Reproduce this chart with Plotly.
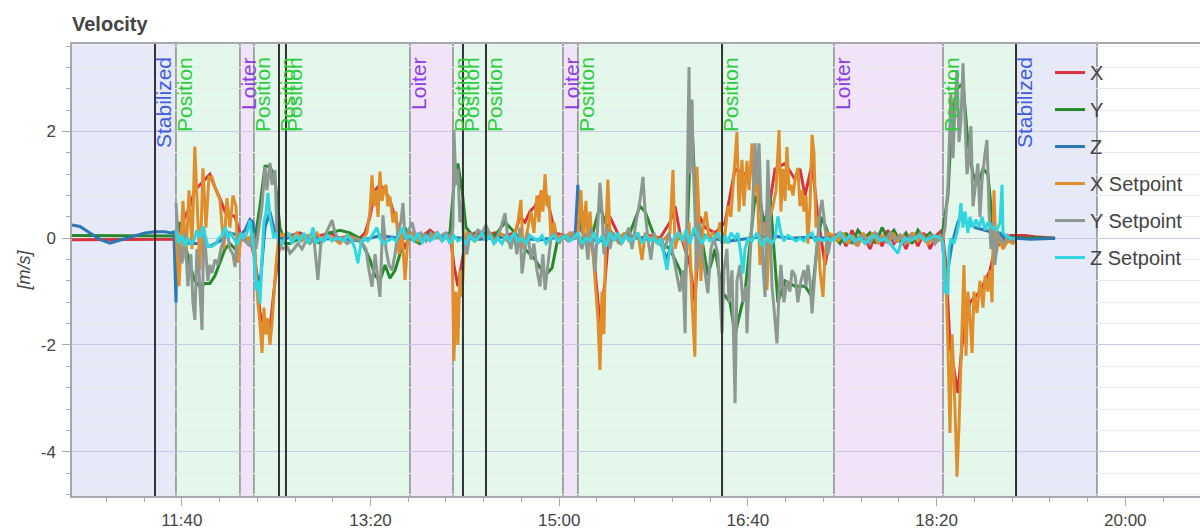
import plotly.graph_objects as go

# ---------------- data (time in seconds, velocity in m/s) ----------------
X = [(641.8,-0.03),(656.6,-0.03),(672.5,-0.02),(688.4,-0.03),(696.9,-0.02),(699.0,0.2),(701.7,0.4),(704.3,0.6),
     (706.9,0.9),(709.6,1.0),(712.3,1.1),(714.9,1.2),(717.6,0.95),(720.2,0.75),(722.9,0.5),(725.5,0.45),(728.2,0.4),
     (730.8,0.1),(733.5,0.0),(736.1,0.0),(738.8,-0.4),(741.4,-1.4),(744.1,-1.7),(746.7,-1.7),(749.4,-0.8),(752.0,-0.1),
     (757.3,0.05),(762.6,0.1),(767.9,0.0),(773.2,0.05),(778.5,0.1),(783.8,0.0),(789.1,0.05),(794.4,0.0),(797.1,0.1),
     (799.7,0.4),(802.4,0.9),(805.0,1.0),(807.7,0.9),(810.3,0.7),(813.0,0.4),(815.6,0.1),(818.3,-0.2),(820.9,0.1),
     (826.2,0.0),(831.5,0.15),(836.8,0.0),(842.1,0.1),(844.2,-0.5),(846.3,-0.9),(848.5,-0.4),(850.6,0.0),(855.4,0.1),
     (860.7,0.05),(865.9,0.1),(871.3,0.05),(876.6,0.1),(879.2,0.4),(881.9,0.3),(884.5,0.5),(887.2,0.6),(889.8,0.8),
     (892.5,0.9),(895.1,0.5),(897.8,0.1),(903.1,0.05),(908.4,0.1),(911.0,0.4),(913.7,0.5),(916.3,0.2),(919.0,-0.6),
     (921.6,-1.6),(924.3,-0.8),(926.9,0.4),(932.2,0.0),(937.5,0.05),(942.8,0.0),(948.1,0.05),(953.4,0.0),(958.7,0.3),
     (961.4,0.6),(964.0,0.1),(969.3,-0.5),(971.9,-1.2),(974.6,0.4),(977.3,0.2),(982.6,0.1),(987.9,0.3),(993.2,1.3),
     (998.5,1.2),(1003.8,1.4),(1009.1,0.1),(1014.4,1.3),(1019.7,1.4),(1025.0,1.1),(1027.6,1.3),(1030.3,0.8),(1034.0,1.4),
     (1037.1,0.4),(1040.9,-0.5),(1043.5,0.0),(1046.2,0.05),(1048.8,0.1),(1052.0,-0.15),(1055.2,0.15),(1058.3,-0.1),
     (1061.5,0.05),(1064.7,-0.2),(1067.9,0.1),(1071.1,-0.15),(1074.2,0.15),(1077.4,-0.1),(1080.6,0.05),(1083.8,-0.2),
     (1087.0,0.1),(1090.1,-0.15),(1093.3,0.1),(1096.5,-0.2),(1099.7,0.05),(1102.9,0.15),(1105.0,-0.5),(1107.1,-2.0),
     (1109.8,-2.6),(1111.3,-2.9),(1113.5,-2.0),(1115.6,-1.5),(1117.7,-1.2),(1120.4,-1.1),(1123.0,-1.0),(1125.7,-0.8),
     (1128.3,-0.6),(1130.9,-0.2),(1133.6,-0.1),(1136.3,0.0),(1138.9,0.05),(1142.1,0.05),(1146.9,0.05),(1152.2,0.03),
     (1157.5,0.02),(1162.8,0.0)]

Y = [(641.8,0.05),(656.6,0.05),(672.5,0.04),(688.4,0.04),(696.9,0.04),(699.0,0.3),(701.7,-0.1),(704.3,-0.5),
     (706.9,-0.8),(709.6,-0.9),(712.3,-0.85),(714.9,-0.85),(717.6,-0.7),(720.2,-0.45),(722.9,-0.2),(725.5,-0.1),
     (728.2,-0.2),(730.8,0.0),(733.5,0.0),(736.1,-0.05),(738.8,0.0),(741.4,0.6),(744.1,1.35),(746.7,1.35),(749.4,1.1),
     (752.0,0.2),(754.7,-0.1),(757.3,-0.1),(762.6,0.0),(767.9,0.05),(773.2,-0.1),(778.5,0.1),(783.8,0.15),(789.1,0.1),
     (794.4,0.0),(799.7,-0.4),(802.4,-0.7),(805.0,-0.8),(807.7,-0.5),(810.3,-0.75),(813.0,-0.6),(815.6,-0.3),(818.3,0.2),
     (820.9,0.0),(826.2,-0.1),(831.5,0.1),(836.8,0.0),(842.1,0.1),(844.2,1.0),(846.3,1.4),(848.5,0.9),(850.6,0.2),
     (855.4,0.0),(860.7,0.1),(865.9,0.05),(871.3,0.3),(876.6,0.1),(881.9,-0.2),(887.2,-0.4),(892.5,-0.7),(896.2,-0.56),
     (899.3,0.0),(905.7,0.05),(911.0,0.0),(916.3,-0.1),(921.6,0.6),(924.3,0.3),(929.6,0.0),(937.5,0.1),(942.8,0.6),
     (945.5,0.5),(950.8,0.0),(958.7,-0.2),(964.0,-0.6),(966.7,-1.0),(969.3,1.5),(970.4,2.09),(971.9,1.0),(974.6,0.2),
     (978.8,-0.7),(982.6,-0.2),(986.3,-1.0),(990.5,-1.2),(993.2,-1.8),(998.5,-1.0),(1003.8,0.8),(1009.1,0.3),
     (1011.7,0.8),(1015.9,-1.2),(1019.7,-0.8),(1025.0,-0.9),(1030.3,-0.9),(1034.0,-1.1),(1037.1,0.0),(1039.3,0.4),
     (1043.5,0.0),(1046.2,0.0),(1048.8,-0.1),(1052.0,0.1),(1055.2,-0.1),(1058.3,0.15),(1061.5,0.0),(1064.7,0.1),
     (1067.9,-0.1),(1071.1,0.2),(1074.2,0.0),(1077.4,0.15),(1080.6,-0.05),(1083.8,0.1),(1087.0,-0.1),(1090.1,0.15),
     (1093.3,0.0),(1096.5,0.1),(1099.7,-0.05),(1102.9,0.05),(1106.0,0.8),(1108.2,2.3),(1110.8,2.8),(1114.0,2.9),
     (1116.6,1.8),(1119.3,1.2),(1121.9,1.0),(1124.6,1.3),(1127.2,1.2),(1129.9,0.2),(1132.5,0.1),(1136.3,0.0),
     (1142.1,0.02),(1146.9,0.0),(1152.2,0.01),(1157.5,0.0),(1162.8,0.0)]

Z = [(641.8,0.25),(646.0,0.22),(651.3,0.1),(656.6,-0.02),(661.9,-0.09),(666.1,-0.05),(669.9,0.0),(675.2,0.05),
     (680.5,0.1),(685.8,0.12),(691.1,0.12),(694.2,0.1),(695.8,0.12),(696.4,-0.6),(696.9,-1.21),(697.4,-0.3),(699.0,-0.05),
     (704.3,-0.1),(709.6,-0.1),(714.9,-0.15),(720.2,-0.05),(725.5,0.1),(730.8,0.05),(733.5,0.15),(736.1,0.35),(737.7,0.3),
     (739.3,-0.6),(741.4,-0.9),(744.1,0.2),(746.7,0.5),(749.4,0.1),(752.0,0.0),(762.6,0.02),(773.2,-0.02),(783.8,0.0),
     (794.4,-0.05),(805.0,0.05),(815.6,0.0),(826.2,-0.02),(836.8,0.03),(847.4,0.0),(858.0,-0.02),(868.6,0.02),(879.2,0.0),
     (889.8,-0.03),(900.4,0.02),(908.4,0.0),(909.9,1.0),(911.0,0.2),(913.7,0.0),(921.6,-0.05),(932.2,0.02),(942.8,0.0),
     (953.4,-0.05),(957.1,-0.4),(959.8,-0.05),(969.3,0.05),(974.6,0.1),(979.9,0.0),(990.5,-0.05),(1001.1,0.0),
     (1011.7,0.05),(1022.3,0.0),(1032.9,0.02),(1043.5,0.0),(1054.1,0.02),(1064.7,-0.02),(1075.3,0.0),(1085.9,0.02),
     (1096.5,-0.02),(1102.9,0.0),(1104.5,-0.6),(1106.0,-0.6),(1108.2,-0.1),(1111.3,0.3),(1113.5,0.45),(1115.6,0.3),
     (1120.4,0.2),(1125.7,0.15),(1130.9,0.1),(1133.6,0.1),(1136.3,0.0),(1142.1,0.0),(1149.5,-0.02),(1157.5,-0.01),
     (1162.8,0.0)]

X_SETPOINT = [(696.9,0.15),(698.5,-0.9),(700.6,0.7),(702.2,-0.4),(703.8,0.9),(705.4,-0.2),(706.9,1.72),(708.5,0.3),
     (709.6,-0.6),(711.2,1.31),(712.8,0.2),(714.4,1.15),(716.0,1.15),(717.6,0.95),(719.1,0.8),(720.2,0.72),(722.3,-0.2),
     (723.9,0.75),(725.5,0.2),(727.1,0.8),(728.7,0.6),(729.7,-0.46),(731.3,0.0),(733.5,0.05),(735.6,-0.05),(737.2,0.1),
     (738.8,-0.3),(740.3,-1.2),(741.4,-1.6),(742.5,-2.15),(743.5,-1.3),(744.6,-1.8),(745.6,-1.5),(746.7,-2.0),(747.8,-1.6),
     (748.8,-1.0),(749.9,-0.5),(751.5,0.1),(753.6,0.05),(755.7,0.1),(758.4,0.0),(761.0,0.1),(763.7,-0.05),(766.3,0.05),
     (769.0,0.0),(771.6,0.1),(774.3,-0.05),(776.9,0.05),(780.1,0.0),(783.8,-0.1),(787.5,0.05),(791.8,0.0),(795.5,-0.05),
     (798.1,0.1),(799.7,0.5),(800.8,1.18),(801.8,0.6),(802.9,0.9),(804.0,0.4),(805.0,1.25),(806.1,0.7),(807.1,0.9),
     (808.2,1.0),(809.2,0.6),(810.3,0.78),(811.9,0.3),(813.5,0.5),(815.1,-0.3),(816.7,0.1),(818.3,-0.78),(819.8,0.0),
     (822.0,0.1),(825.1,-0.05),(828.3,0.05),(831.5,0.0),(834.7,0.1),(837.9,-0.05),(841.0,0.05),(843.2,0.0),(844.2,-2.3),
     (845.3,-1.0),(846.3,-2.0),(847.4,-0.6),(848.5,-1.1),(849.5,-0.3),(851.1,0.1),(853.2,0.05),(855.4,-0.05),(858.0,0.05),
     (860.7,0.0),(863.3,0.1),(865.9,-0.05),(868.6,0.1),(871.3,0.0),(873.9,-0.1),(876.6,0.1),(878.1,0.3),(879.7,0.72),
     (880.8,-0.2),(882.9,0.1),(885.0,0.5),(886.6,0.1),(888.2,0.8),(889.3,0.3),(890.3,0.9),(891.4,0.5),(892.5,1.2),
     (893.5,0.6),(894.6,0.8),(895.6,0.0),(897.2,0.3),(898.8,0.0),(900.9,0.05),(903.1,0.0),(905.7,0.1),(907.8,0.0),
     (909.9,0.05),(911.5,0.9),(912.6,0.0),(914.2,0.7),(915.2,-0.3),(916.3,0.5),(917.4,0.0),(918.4,-0.5),(919.5,-0.97),
     (920.5,-1.5),(921.6,-2.47),(922.7,-1.0),(923.7,-1.8),(924.8,0.2),(925.8,1.1),(926.9,0.1),(929.0,0.05),(931.7,-0.1),
     (934.3,0.1),(937.0,-0.05),(939.6,0.0),(941.7,0.1),(943.9,-0.41),(945.5,0.1),(948.1,0.0),(950.8,0.05),(953.4,-0.1),
     (956.1,0.0),(958.7,0.1),(960.3,1.28),(961.4,-0.2),(963.5,0.1),(965.6,0.0),(967.2,-0.2),(968.8,0.3),(970.4,-1.2),
     (971.9,-2.22),(973.0,1.34),(974.1,0.4),(975.1,-0.8),(976.2,0.2),(977.8,0.5),(979.4,0.0),(981.5,0.1),(983.6,0.0),
     (985.2,0.3),(987.3,-0.1),(989.4,0.6),(991.0,0.4),(992.6,1.2),(994.2,1.99),(995.3,0.5),(996.9,1.47),(997.9,0.6),
     (999.5,1.45),(1000.6,0.9),(1002.2,1.78),(1003.2,0.8),(1004.8,1.2),(1006.4,-0.5),(1008.0,0.3),(1009.6,0.1),
     (1010.1,-0.97),(1011.7,0.4),(1013.3,0.6),(1014.9,0.9),(1016.5,2.03),(1017.5,0.5),(1018.6,1.3),(1019.7,0.7),
     (1020.7,1.71),(1021.8,0.9),(1022.8,1.0),(1023.9,0.8),(1025.0,1.1),(1026.5,1.32),(1027.6,0.6),(1028.7,0.9),
     (1029.7,0.5),(1030.8,0.8),(1031.8,-0.1),(1032.9,0.6),(1034.0,1.94),(1035.0,1.6),(1036.1,0.2),(1037.1,0.4),
     (1038.2,-0.6),(1039.8,-1.1),(1040.9,-0.3),(1042.4,0.1),(1045.1,0.05),(1047.7,-0.05),(1050.4,0.1),(1053.0,-0.1),
     (1055.7,0.05),(1058.3,-0.15),(1061.0,0.1),(1063.6,-0.05),(1066.3,0.1),(1068.9,-0.1),(1071.6,0.05),(1074.2,-0.1),
     (1076.9,0.1),(1079.5,-0.05),(1082.2,0.05),(1084.8,-0.1),(1087.5,0.1),(1090.1,-0.05),(1092.8,0.05),(1095.4,-0.1),
     (1098.1,0.05),(1100.7,-0.05),(1102.9,0.0),(1103.9,-0.3),(1105.0,-0.8),(1106.0,-2.0),(1107.1,-3.65),(1108.2,-1.8),
     (1109.2,-2.6),(1110.3,-3.8),(1110.8,-4.47),(1111.9,-3.5),(1112.9,-2.3),(1114.0,-1.2),(1114.5,-0.5),(1115.6,-2.2),
     (1116.6,-1.0),(1117.7,-1.5),(1118.8,-2.15),(1119.8,-1.0),(1121.4,-1.4),(1123.0,-0.8),(1124.6,-1.3),(1125.7,-0.7),
     (1127.2,-1.0),(1128.3,-0.6),(1129.4,-1.2),(1130.4,0.9),(1131.5,-0.3),(1133.1,0.0),(1135.2,-0.2),(1137.8,-0.05),
     (1140.5,-0.1),(1142.1,0.0)]

Y_SETPOINT = [(696.9,0.66),(698.5,-0.2),(700.1,-0.47),(701.7,0.1),(703.2,-0.9),(704.8,-0.3),(705.9,-1.2),(706.9,-1.53),
     (708.0,-0.2),(709.1,-0.6),(710.7,-1.72),(711.7,0.2),(712.8,-0.3),(713.8,-0.8),(714.9,-0.5),(716.0,-0.65),(717.6,-0.4),
     (719.1,-0.5),(720.7,-0.2),(722.3,0.0),(723.9,0.15),(725.5,-0.2),(727.1,-0.3),(728.2,-0.54),(729.2,0.0),(731.3,0.0),
     (733.5,-0.05),(736.1,-0.15),(737.7,0.1),(739.3,-0.2),(740.9,0.2),(742.5,0.6),(744.1,1.34),(745.1,0.9),(746.7,1.41),
     (747.8,1.0),(749.4,1.28),(750.4,0.1),(751.5,-0.1),(753.6,-0.2),(755.7,-0.15),(757.3,-0.28),(759.4,-0.2),(761.5,-0.1),
     (763.7,-0.2),(765.8,-0.05),(767.9,-0.1),(770.0,0.0),(772.1,-0.78),(773.7,-0.1),(775.9,0.05),(778.0,0.2),(779.6,0.34),
     (781.2,0.1),(783.3,-0.05),(785.4,0.0),(787.5,-0.1),(790.2,-0.05),(792.8,0.0),(795.5,-0.1),(797.6,-0.2),(799.2,-0.6),
     (800.8,-0.91),(802.4,-0.3),(804.0,-0.8),(805.0,-1.1),(806.6,0.43),(808.2,-0.2),(809.8,-0.5),(811.4,-0.6),(813.0,-0.3),
     (814.5,0.1),(816.1,0.3),(817.2,0.66),(818.3,0.0),(819.8,0.1),(822.0,0.3),(824.1,0.0),(826.7,0.1),(829.4,-0.05),
     (832.0,0.1),(834.7,0.0),(837.3,0.05),(840.0,0.1),(842.6,0.0),(843.7,0.2),(844.2,2.03),(845.3,1.0),(846.3,1.3),
     (847.4,0.3),(848.5,0.7),(849.5,-0.1),(851.1,-0.3),(852.7,0.1),(854.8,0.0),(856.9,0.15),(859.1,0.1),(861.2,0.25),
     (862.8,0.1),(864.4,0.0),(865.9,-0.1),(867.5,0.05),(869.1,0.2),(871.3,0.47),(872.8,0.0),(874.4,-0.2),(876.0,0.1),
     (877.6,-0.3),(879.2,0.2),(880.3,-0.66),(881.9,-0.2),(883.4,0.1),(885.0,-0.4),(886.6,-0.1),(888.2,-0.6),(889.8,-0.9),
     (891.4,-0.3),(892.5,-0.97),(894.0,-0.5),(895.6,0.0),(897.8,0.1),(899.9,-0.1),(902.0,0.05),(904.6,-0.05),(907.3,0.1),
     (909.9,0.0),(912.1,-0.2),(913.7,0.1),(915.2,-0.4),(916.8,0.2),(918.4,-0.3),(919.0,-0.62),(920.5,0.3),(921.6,1.04),
     (922.7,0.5),(923.7,-0.3),(925.3,0.2),(926.9,-0.2),(928.5,0.1),(930.6,0.0),(932.7,-0.1),(934.9,0.05),(937.0,0.2),
     (938.6,-0.2),(940.7,0.3),(942.8,0.7),(944.4,1.15),(945.5,0.5),(947.0,0.0),(948.6,-0.4),(950.2,0.1),(951.8,-0.1),
     (953.9,0.0),(956.1,-0.2),(958.2,0.1),(960.3,-0.3),(962.4,-0.7),(964.0,-1.0),(965.6,-0.6),(966.7,-1.78),(967.7,0.5),
     (968.8,3.21),(969.3,1.2),(970.4,2.6),(970.9,1.53),(971.9,0.5),(973.0,-0.6),(974.1,0.3),(975.1,-0.2),(976.7,-0.5),
     (978.8,-1.03),(980.4,-0.2),(982.0,0.0),(984.1,-0.3),(986.3,-1.78),(987.3,-0.6),(988.9,-0.2),(990.0,-1.2),(991.6,-0.6),
     (993.2,-3.09),(994.2,-0.8),(995.8,-0.5),(997.4,-1.2),(999.0,-0.9),(999.5,-1.78),(1001.1,-0.4),(1002.2,0.3),
     (1003.8,1.78),(1004.8,1.0),(1005.9,1.78),(1006.9,0.5),(1008.0,-0.5),(1009.1,-1.1),(1010.1,0.9),(1010.6,1.47),
     (1011.7,0.2),(1012.8,-0.9),(1013.8,-1.3),(1015.4,-1.97),(1016.5,-1.0),(1017.5,-0.5),(1019.1,-1.2),(1020.7,-0.8),
     (1022.3,-1.0),(1023.4,-0.6),(1025.0,-0.7),(1026.5,-1.2),(1028.1,-0.8),(1029.7,-0.6),(1030.8,-0.9),(1031.8,-0.5),
     (1032.9,-0.8),(1034.0,-1.41),(1035.6,-0.6),(1037.1,0.0),(1038.2,0.5),(1039.3,0.72),(1040.9,0.2),(1042.4,-0.3),
     (1044.0,0.0),(1046.2,0.0),(1048.8,0.1),(1051.5,-0.05),(1054.1,0.05),(1056.8,-0.1),(1059.4,0.05),(1062.1,0.0),
     (1064.7,-0.1),(1067.4,0.1),(1070.0,0.0),(1072.7,-0.05),(1075.3,0.1),(1077.9,-0.05),(1080.6,0.05),(1083.3,-0.1),
     (1085.9,0.05),(1088.6,0.0),(1091.2,0.1),(1093.9,-0.05),(1096.5,0.05),(1099.2,-0.1),(1101.8,0.05),(1103.4,0.0),
     (1104.5,0.2),(1106.0,0.97),(1107.6,2.72),(1108.7,1.5),(1109.8,2.5),(1110.8,3.15),(1111.9,1.8),(1112.9,2.2),
     (1114.0,3.28),(1115.1,2.2),(1116.1,1.2),(1117.2,1.5),(1118.2,2.1),(1119.3,0.6),(1120.4,1.0),(1121.9,1.4),
     (1123.0,0.4),(1124.1,1.1),(1125.7,1.6),(1126.7,1.84),(1127.8,0.5),(1128.8,-0.2),(1129.9,0.3),(1130.9,-0.5),
     (1132.5,0.1),(1133.6,0.0),(1135.7,-0.1),(1137.8,0.05),(1140.0,-0.05),(1142.1,0.0)]

Z_SETPOINT = [(696.9,0.15),(698.5,-0.1),(700.1,0.05),(701.7,-0.15),(703.2,0.0),(704.8,-0.1),(706.4,-0.05),(708.0,0.15),
     (709.6,0.0),(711.2,0.22),(712.8,0.0),(713.8,-0.15),(716.0,-0.15),(718.1,-0.1),(719.7,0.0),(721.3,0.05),(722.9,0.21),
     (724.4,0.0),(726.0,0.1),(728.2,-0.05),(729.7,-0.1),(731.3,0.1),(732.9,0.0),(734.5,0.1),(736.1,0.34),(737.2,0.05),
     (738.2,-0.3),(739.3,-0.97),(740.3,-0.8),(741.4,-1.22),(742.5,-0.4),(743.5,0.3),(744.6,0.47),(745.6,0.85),(746.7,0.4),
     (747.8,0.2),(748.8,0.0),(749.9,0.1),(751.5,-0.05),(753.1,-0.1),(754.7,0.0),(756.8,0.1),(758.4,-0.1),(760.5,0.05),
     (762.6,-0.05),(764.7,0.1),(766.8,-0.1),(768.4,0.05),(769.5,0.2),(771.1,-0.1),(773.2,0.0),(775.3,-0.05),(777.4,0.05),
     (779.6,-0.05),(781.7,0.0),(783.8,0.0),(785.9,-0.05),(788.0,0.05),(790.2,-0.05),(791.8,-0.2),(793.3,-0.47),(794.9,-0.1),
     (796.5,0.0),(798.6,-0.05),(800.8,0.05),(803.4,0.2),(805.0,0.0),(807.1,-0.1),(809.2,-0.05),(811.4,0.0),(813.5,-0.05),
     (815.6,0.1),(817.2,0.2),(818.8,0.0),(820.9,0.05),(823.0,-0.05),(825.1,0.1),(827.3,-0.1),(829.4,0.05),(831.5,-0.05),
     (833.6,0.0),(835.7,0.1),(837.9,-0.05),(840.0,0.05),(842.1,-0.1),(844.2,0.05),(846.3,-0.05),(848.5,0.0),(850.6,-0.1),
     (852.7,0.05),(854.8,-0.05),(856.9,0.0),(859.1,0.1),(861.2,-0.05),(863.3,0.05),(865.4,-0.1),(867.5,0.0),(869.7,-0.1),
     (871.8,0.05),(873.9,-0.05),(876.0,0.1),(878.1,-0.05),(880.3,0.0),(882.4,-0.1),(884.5,0.05),(886.6,0.0),(888.7,-0.05),
     (890.9,0.05),(893.0,-0.1),(895.1,0.0),(897.2,0.05),(899.3,-0.05),(901.5,0.0),(903.6,0.05),(905.7,-0.05),(907.8,0.0),
     (909.9,0.1),(912.1,-0.1),(914.2,0.0),(916.3,-0.05),(918.4,0.1),(920.5,-0.1),(922.7,0.05),(924.8,-0.15),(926.9,0.1),
     (929.0,-0.05),(931.1,0.1),(933.3,-0.1),(935.4,0.05),(937.5,-0.05),(939.6,0.0),(941.7,0.1),(943.9,-0.1),(946.0,0.05),
     (948.1,-0.05),(950.2,0.0),(952.3,-0.1),(953.9,0.0),(955.5,-0.3),(957.1,-0.59),(958.7,-0.2),(960.8,0.0),(962.9,0.1),
     (965.1,-0.05),(967.2,0.15),(969.3,-0.1),(971.4,0.2),(973.5,0.05),(975.7,-0.1),(977.8,0.05),(979.9,-0.05),(982.0,0.0),
     (984.1,0.1),(986.3,-0.1),(987.9,0.05),(989.4,-0.1),(991.0,0.1),(993.2,0.0),(994.7,0.1),(996.3,-0.3),(997.4,-0.66),
     (998.5,-0.2),(1000.0,0.0),(1002.2,-0.05),(1004.8,0.1),(1007.5,-0.15),(1010.1,0.0),(1012.8,-0.1),(1014.4,0.0),
     (1015.9,0.41),(1017.5,0.1),(1019.1,-0.05),(1021.2,0.05),(1023.4,0.0),(1025.5,-0.05),(1027.6,0.0),(1029.7,-0.05),
     (1031.8,0.05),(1034.0,0.1),(1035.6,-0.05),(1037.7,0.0),(1039.8,-0.05),(1041.9,0.0),(1044.0,-0.05),(1046.2,0.0),
     (1048.8,0.1),(1051.5,-0.05),(1054.1,0.05),(1056.8,-0.05),(1059.4,0.0),(1062.1,-0.1),(1064.7,0.0),(1067.4,0.05),
     (1070.0,-0.05),(1072.7,0.0),(1075.3,-0.1),(1077.9,-0.2),(1079.5,-0.28),(1081.1,-0.1),(1083.3,0.0),(1085.9,-0.05),
     (1088.6,0.0),(1091.2,0.05),(1093.9,-0.05),(1096.5,0.0),(1099.2,0.05),(1101.8,0.0),(1103.4,-0.1),(1104.5,-1.0),
     (1106.0,-1.03),(1106.6,-0.2),(1107.6,0.0),(1109.2,-0.1),(1110.8,0.1),(1111.9,0.3),(1112.9,0.66),(1114.0,0.2),
     (1115.1,0.5),(1116.6,0.1),(1117.7,0.4),(1119.3,0.2),(1120.9,0.35),(1122.5,0.2),(1124.1,0.4),(1125.7,0.15),
     (1127.2,0.3),(1128.8,0.2),(1130.4,0.2),(1132.0,0.15),(1133.6,0.3),(1134.7,1.0),(1135.2,0.1),(1136.8,0.05),
     (1138.9,0.0),(1142.1,0.0)]

# flight modes: shaded spans
span_start = [641.8, 696.9, 730.8, 738.2, 820.9, 843.7, 902.0, 909.9, 1045.6, 1103.4, 1142.1]
span_end   = [696.9, 730.8, 738.2, 820.9, 843.7, 902.0, 909.9, 1045.6, 1103.4, 1142.1, 1185.0]
span_mode  = ["Stabilized", "Position", "Loiter", "Position", "Loiter", "Position", "Loiter",
              "Position", "Loiter", "Position", "Stabilized"]
# mode labels
label_time = [685.8, 696.9, 730.8, 738.2, 751.5, 755.2, 820.9, 843.7, 849.0, 861.2, 902.0, 909.9,
              986.3, 1045.6, 1103.4, 1142.1]
label_text = ["Stabilized", "Position", "Loiter", "Position", "Position", "Position", "Loiter", "Position",
              "Position", "Position", "Loiter", "Position", "Position", "Loiter", "Position", "Stabilized"]
# dark event lines
event_time = [685.8, 751.5, 755.2, 849.0, 861.2, 986.3, 1142.1]

x_tick_vals = [700, 800, 900, 1000, 1100, 1200]
x_tick_text = ["11:40", "13:20", "15:00", "16:40", "18:20", "20:00"]
y_tick_vals = [-4, -2, 0, 2]
y_tick_text = ["-4", "-2", "0", "2"]

# ---------------- styling ----------------
FONT = "Liberation Sans, Arial, Helvetica, sans-serif"
fill_col = {"Stabilized": "#e6e9f8", "Position": "#e3f8ea", "Loiter": "#f1e4f8"}
text_col = {"Stabilized": "#3f5ee0", "Position": "#2ecb3c", "Loiter": "#8d3fe3"}

series = [("X", X, "#d8323f"), ("Y", Y, "#26882a"), ("Z", Z, "#2d78b4"),
          ("X Setpoint", X_SETPOINT, "#e08e2b"), ("Y Setpoint", Y_SETPOINT, "#8e9892"),
          ("Z Setpoint", Z_SETPOINT, "#2fd6e0")]

fig = go.Figure()
for name, pts, col in series:
    fig.add_trace(go.Scatter(x=[p[0] for p in pts], y=[p[1] for p in pts], mode="lines", name=name,
                             legendgroup=name, line=dict(color=col, width=3)))

shapes = []
for s, e, m in zip(span_start, span_end, span_mode):
    shapes.append(dict(type="rect", xref="x", yref="paper", x0=s, x1=e, y0=0, y1=1,
                       fillcolor=fill_col[m], line=dict(width=0), layer="below"))
edges = sorted(set(span_start[1:] + span_end))
for t in edges:
    shapes.append(dict(type="line", xref="x", yref="paper", x0=t, x1=t, y0=0, y1=1,
                       line=dict(color="#8c8c8c", width=1.5), layer="between"))
for t in event_time:
    shapes.append(dict(type="line", xref="x", yref="paper", x0=t, x1=t, y0=0, y1=1,
                       line=dict(color="#333333", width=2), layer="above"))

annotations = []
for t, txt in zip(label_time, label_text):
    annotations.append(dict(x=t, xref="x", y=1, yref="paper", text=txt, textangle=-90,
                            showarrow=False, xanchor="left", yanchor="top", xshift=-5, yshift=-11,
                            font=dict(family=FONT, size=21, color=text_col[txt])))

fig.update_layout(
    width=1200, height=531,
    margin=dict(l=72, r=0, t=44, b=35),
    paper_bgcolor="white", plot_bgcolor="white",
    font=dict(family=FONT, color="#444444"),
    title=dict(text="<b>Velocity</b>", x=72 / 1200, xanchor="left", xref="container",
               y=1 - 24 / 531, yanchor="middle", yref="container",
               font=dict(family=FONT, size=20, color="#444444")),
    shapes=shapes, annotations=annotations,
    showlegend=True,
    legend=dict(x=0.867, xanchor="left", y=0.98, yanchor="top", bgcolor="rgba(0,0,0,0)",
                font=dict(family=FONT, size=20, color="#444444"), tracegroupgap=8,
                traceorder="grouped"),
    xaxis=dict(range=[641.8, 1239.6], tickmode="array", tickvals=x_tick_vals, ticktext=x_tick_text,
               ticks="outside", ticklen=8, tickcolor="#a8a8b0", showline=True, linecolor="#a8a8b0",
               linewidth=1.5, mirror=True, showgrid=False, zeroline=False, automargin=False,
               tickfont=dict(family=FONT, size=17, color="#444444"),
               minor=dict(dtick=20, tick0=0, ticks="outside", ticklen=4, tickcolor="#a8a8b0", showgrid=False)),
    yaxis=dict(range=[-4.83, 3.64], tickmode="array", tickvals=y_tick_vals, ticktext=y_tick_text,
               ticks="outside", ticklen=8, tickcolor="#a8a8b0", ticklabelstandoff=3,
               showline=True, linecolor="#a8a8b0", linewidth=1.5, showgrid=True, gridcolor="#c9c9e4",
               gridwidth=1.2, zeroline=False, automargin=False,
               tickfont=dict(family=FONT, size=17, color="#444444"),
               title=dict(text="<i>[m/s]</i>", font=dict(family=FONT, size=18, color="#444444"), standoff=5),
               minor=dict(dtick=0.4, tick0=0, ticks="outside", ticklen=4, tickcolor="#a8a8b0",
                          showgrid=True, gridcolor="#e9e9ef", gridwidth=1)),
)

fig.write_html("out.html", config={"displayModeBar": False},
               post_script="document.body.style.margin='0';")
